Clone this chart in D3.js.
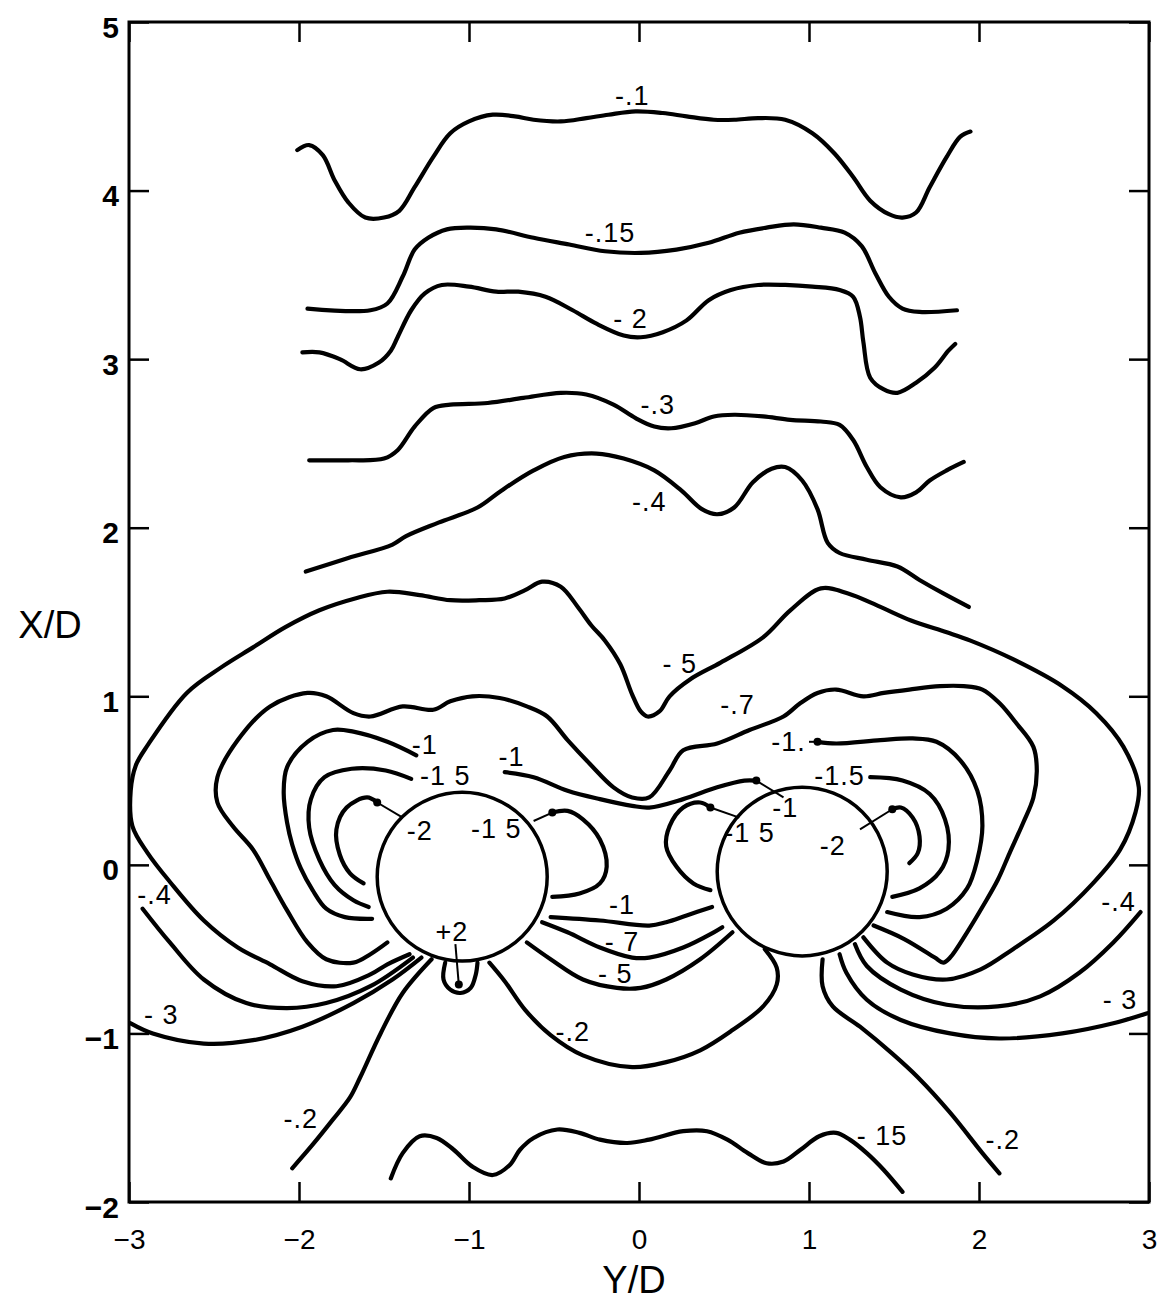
<!DOCTYPE html>
<html>
<head>
<meta charset="utf-8">
<script src="https://cdn.jsdelivr.net/npm/d3@7"></script>
<style>
  body { margin: 0; background: #fff; }
  svg text { font-family: "Liberation Sans", Arial, sans-serif; fill: #000; }
</style>
</head>
<body>
<div id="chart"></div>
<script>
// contour lines as [Y/D, X/D] pairs
const cp10 = [[-2.01,4.24],[-1.94,4.27],[-1.86,4.21],[-1.79,4.06],[-1.71,3.93],[-1.61,3.84],[-1.50,3.84],[-1.41,3.88],[-1.32,4.02],[-1.21,4.20],[-1.11,4.34],[-1.00,4.41],[-0.86,4.45],[-0.73,4.44],[-0.62,4.42],[-0.46,4.41],[-0.31,4.43],[-0.18,4.45],[-0.02,4.47],[0.14,4.46],[0.28,4.44],[0.44,4.42],[0.56,4.42],[0.70,4.43],[0.86,4.42],[1.02,4.34],[1.15,4.22],[1.26,4.08],[1.36,3.94],[1.47,3.86],[1.55,3.84],[1.63,3.87],[1.71,4.02],[1.81,4.20],[1.89,4.32],[1.95,4.35]];
const cp15 = [[-1.95,3.30],[-1.58,3.29],[-1.48,3.33],[-1.39,3.49],[-1.32,3.65],[-1.24,3.72],[-1.13,3.77],[-1.00,3.78],[-0.84,3.77],[-0.62,3.72],[-0.41,3.68],[-0.20,3.64],[0.01,3.63],[0.22,3.65],[0.41,3.69],[0.59,3.75],[0.75,3.78],[0.91,3.80],[1.07,3.78],[1.21,3.75],[1.31,3.67],[1.39,3.51],[1.47,3.37],[1.55,3.30],[1.65,3.28],[1.87,3.29]];
const cp20 = [[-1.98,3.04],[-1.88,3.04],[-1.76,3.00],[-1.64,2.94],[-1.53,2.98],[-1.46,3.05],[-1.42,3.13],[-1.34,3.29],[-1.26,3.39],[-1.16,3.44],[-1.00,3.43],[-0.84,3.40],[-0.71,3.40],[-0.55,3.37],[-0.39,3.29],[-0.25,3.21],[-0.09,3.14],[0.01,3.13],[0.14,3.16],[0.28,3.23],[0.41,3.35],[0.54,3.41],[0.70,3.44],[0.86,3.44],[1.02,3.43],[1.18,3.41],[1.26,3.37],[1.30,3.25],[1.32,3.10],[1.36,2.89],[1.44,2.82],[1.52,2.80],[1.63,2.86],[1.74,2.95],[1.82,3.05],[1.86,3.09]];
const cp30 = [[-1.94,2.40],[-1.71,2.40],[-1.50,2.41],[-1.42,2.46],[-1.32,2.60],[-1.21,2.71],[-1.11,2.73],[-0.89,2.74],[-0.68,2.77],[-0.46,2.80],[-0.31,2.79],[-0.15,2.73],[-0.02,2.65],[0.09,2.60],[0.19,2.59],[0.33,2.62],[0.44,2.66],[0.56,2.67],[0.73,2.66],[0.89,2.64],[1.07,2.63],[1.18,2.61],[1.26,2.52],[1.34,2.36],[1.42,2.24],[1.54,2.18],[1.63,2.21],[1.71,2.28],[1.81,2.34],[1.91,2.39]];
const cp40 = [[-1.96,1.74],[-1.71,1.82],[-1.45,1.90],[-1.37,1.95],[-1.18,2.03],[-0.95,2.12],[-0.81,2.22],[-0.62,2.34],[-0.44,2.42],[-0.25,2.44],[-0.09,2.41],[0.09,2.34],[0.25,2.22],[0.37,2.11],[0.46,2.08],[0.56,2.12],[0.67,2.27],[0.78,2.35],[0.86,2.36],[0.96,2.28],[1.05,2.11],[1.11,1.91],[1.18,1.85],[1.34,1.81],[1.52,1.77],[1.65,1.69],[1.79,1.61],[1.94,1.53]];
const cp50 = [[-1.35,-0.53],[-1.48,-0.59],[-1.58,-0.65],[-1.78,-0.72],[-1.98,-0.69],[-2.17,-0.59],[-2.36,-0.49],[-2.56,-0.33],[-2.76,-0.10],[-2.89,0.07],[-2.98,0.23],[-2.99,0.44],[-2.96,0.59],[-2.89,0.71],[-2.66,1.02],[-2.46,1.17],[-2.27,1.29],[-2.08,1.41],[-1.88,1.51],[-1.67,1.58],[-1.48,1.62],[-1.29,1.60],[-1.11,1.57],[-0.94,1.57],[-0.79,1.58],[-0.67,1.63],[-0.57,1.68],[-0.46,1.65],[-0.36,1.53],[-0.28,1.42],[-0.20,1.33],[-0.11,1.19],[-0.04,1.01],[0.01,0.91],[0.05,0.88],[0.12,0.91],[0.18,1.00],[0.30,1.10],[0.48,1.20],[0.73,1.35],[0.89,1.51],[1.07,1.64],[1.23,1.61],[1.42,1.53],[1.60,1.45],[1.81,1.38],[1.95,1.33],[2.20,1.22],[2.49,1.06],[2.69,0.90],[2.85,0.70],[2.94,0.46],[2.92,0.31],[2.83,0.09],[2.67,-0.11],[2.44,-0.33],[2.20,-0.50],[2.01,-0.62],[1.81,-0.68],[1.61,-0.65],[1.46,-0.58],[1.32,-0.43]];
const cp70 = [[-1.48,-0.46],[-1.58,-0.53],[-1.68,-0.58],[-1.84,-0.56],[-1.95,-0.46],[-2.07,-0.27],[-2.17,-0.09],[-2.27,0.09],[-2.39,0.23],[-2.48,0.37],[-2.48,0.52],[-2.36,0.74],[-2.17,0.94],[-1.95,1.02],[-1.84,1.00],[-1.68,0.90],[-1.58,0.88],[-1.39,0.94],[-1.21,0.92],[-1.11,0.97],[-0.98,1.00],[-0.82,0.99],[-0.66,0.94],[-0.54,0.88],[-0.42,0.74],[-0.29,0.60],[-0.15,0.46],[-0.04,0.40],[0.06,0.40],[0.18,0.56],[0.26,0.68],[0.46,0.72],[0.65,0.80],[0.85,0.88],[0.95,0.96],[1.05,1.02],[1.16,1.04],[1.32,1.00],[1.44,1.02],[1.59,1.04],[1.77,1.06],[1.91,1.06],[2.02,1.04],[2.12,0.96],[2.22,0.84],[2.32,0.70],[2.34,0.56],[2.32,0.40],[2.26,0.25],[2.18,0.07],[2.11,-0.09],[2.02,-0.25],[1.93,-0.40],[1.83,-0.55],[1.79,-0.58],[1.74,-0.55],[1.56,-0.44],[1.38,-0.36]];
const cm10L = [[-1.31,0.65],[-1.48,0.73],[-1.68,0.79],[-1.80,0.80],[-1.95,0.73],[-2.07,0.58],[-2.09,0.43],[-2.07,0.25],[-2.04,0.12],[-1.99,-0.02],[-1.92,-0.15],[-1.84,-0.26],[-1.73,-0.31],[-1.57,-0.32]];
const cm15L = [[-1.34,0.51],[-1.49,0.56],[-1.69,0.57],[-1.85,0.52],[-1.93,0.39],[-1.94,0.22],[-1.88,0.03],[-1.79,-0.12],[-1.68,-0.21],[-1.59,-0.25]];
const cm20L = [[-1.54,0.37],[-1.60,0.40],[-1.72,0.34],[-1.78,0.21],[-1.76,0.06],[-1.70,-0.05],[-1.62,-0.11]];
const cm15Li = [[-0.51,0.31],[-0.42,0.32],[-0.33,0.27],[-0.23,0.15],[-0.19,-0.01],[-0.23,-0.11],[-0.35,-0.17],[-0.51,-0.19]];
const cm10M = [[-0.79,0.55],[-0.62,0.52],[-0.42,0.44],[-0.23,0.39],[-0.04,0.35],[0.06,0.34],[0.26,0.39],[0.46,0.46],[0.62,0.50],[0.69,0.50]];
const cm15Ri = [[0.42,0.34],[0.36,0.37],[0.26,0.34],[0.18,0.23],[0.16,0.11],[0.22,-0.01],[0.32,-0.11],[0.42,-0.15]];
const cm20R = [[1.49,0.33],[1.54,0.34],[1.61,0.28],[1.65,0.17],[1.64,0.07],[1.59,0.01]];
const cm15R = [[1.36,0.52],[1.55,0.50],[1.71,0.42],[1.80,0.27],[1.82,0.09],[1.77,-0.04],[1.65,-0.14],[1.49,-0.19]];
const cm10R = [[1.05,0.73],[1.16,0.72],[1.42,0.74],[1.61,0.75],[1.75,0.73],[1.89,0.62],[1.99,0.44],[2.02,0.23],[1.99,0.03],[1.93,-0.14],[1.81,-0.26],[1.65,-0.31],[1.46,-0.28]];
const cm10B = [[-0.52,-0.31],[-0.23,-0.33],[0.06,-0.36],[0.16,-0.34],[0.28,-0.30],[0.43,-0.25]];
const cm7B = [[-0.57,-0.34],[-0.42,-0.40],[-0.23,-0.49],[-0.04,-0.55],[0.06,-0.55],[0.26,-0.49],[0.44,-0.40],[0.49,-0.37]];
const cm5B = [[-0.66,-0.46],[-0.52,-0.56],[-0.33,-0.68],[-0.13,-0.73],[0.01,-0.73],[0.16,-0.68],[0.36,-0.56],[0.55,-0.40]];
const cm2M = [[-0.88,-0.58],[-0.79,-0.69],[-0.67,-0.86],[-0.52,-1.01],[-0.33,-1.13],[-0.04,-1.20],[0.16,-1.17],[0.36,-1.10],[0.55,-0.98],[0.73,-0.84],[0.81,-0.71],[0.81,-0.61],[0.74,-0.50]];
const cm4LL = [[-2.92,-0.26],[-2.76,-0.46],[-2.56,-0.68],[-2.31,-0.82],[-2.07,-0.85],[-1.84,-0.82],[-1.58,-0.72],[-1.33,-0.55]];
const cm3LL = [[-2.99,-0.94],[-2.86,-1.00],[-2.56,-1.06],[-2.27,-1.04],[-1.98,-0.96],[-1.68,-0.82],[-1.45,-0.68],[-1.28,-0.55]];
const cm2LL = [[-2.04,-1.80],[-1.92,-1.66],[-1.80,-1.51],[-1.70,-1.38],[-1.64,-1.26],[-1.52,-1.00],[-1.39,-0.76],[-1.22,-0.56]];
const cm2LR = [[1.08,-0.56],[1.08,-0.72],[1.14,-0.84],[1.30,-0.96],[1.49,-1.12],[1.64,-1.26],[1.83,-1.47],[2.02,-1.71],[2.12,-1.83]];
const cm3LR = [[1.18,-0.53],[1.22,-0.64],[1.34,-0.80],[1.54,-0.92],[1.83,-1.00],[2.12,-1.03],[2.49,-1.00],[2.79,-0.94],[2.99,-0.88]];
const cm4LR = [[1.27,-0.47],[1.34,-0.60],[1.54,-0.74],[1.81,-0.83],[2.11,-0.84],[2.36,-0.78],[2.59,-0.64],[2.79,-0.46],[2.95,-0.28]];
const cm15B = [[-1.46,-1.86],[-1.39,-1.71],[-1.29,-1.61],[-1.19,-1.62],[-1.09,-1.69],[-0.98,-1.79],[-0.86,-1.84],[-0.76,-1.78],[-0.70,-1.69],[-0.62,-1.62],[-0.48,-1.57],[-0.35,-1.59],[-0.23,-1.63],[-0.07,-1.65],[0.06,-1.63],[0.26,-1.58],[0.40,-1.58],[0.52,-1.63],[0.64,-1.71],[0.75,-1.77],[0.85,-1.76],[0.95,-1.69],[1.06,-1.61],[1.16,-1.59],[1.24,-1.63],[1.34,-1.71],[1.44,-1.81],[1.55,-1.94]];
const cp2U = [[-1.14,-0.58],[-1.15,-0.68],[-1.11,-0.74],[-1.05,-0.76],[-0.99,-0.73],[-0.96,-0.65],[-0.95,-0.58]];

// leader lines from a label to its contour (the arrow end is the second point)
const pointers = [
  [[-1.39,0.28],[-1.54,0.37]],
  [[-0.62,0.26],[-0.51,0.31]],
  [[0.85,0.40],[0.69,0.50]],
  [[0.59,0.28],[0.42,0.34]],
  [[1.30,0.21],[1.49,0.33]],
  [[-1.08,-0.47],[-1.06,-0.71]],
  [[1.00,0.73],[1.05,0.73]]
];

// the two cylinders, diameter D
const cylCentres = [[-1.04,-0.07],[0.96,-0.04]];
const cylRadius = 0.5;

// contour labels: text, Y/D, X/D
const labelText = ["-.1","-.15","- 2","-.3","-.4","- 5","-.7","-1","-1 5","-1","-1.","-1.5","-2","-1 5","-1","-1 5","-2","-1","- 7","- 5","+2","-.2","-.4","-.4","- 3","- 3","-.2","-.2","- 15"];
const labelY = [-0.04,-0.17,-0.05,0.11,0.06,0.24,0.58,-1.26,-1.14,-0.75,0.88,1.18,-1.29,-0.84,0.86,0.65,1.14,-0.10,-0.10,-0.14,-1.10,-0.39,-2.85,2.82,-2.81,2.83,-1.99,2.14,1.43];
const labelX = [4.56,3.75,3.24,2.73,2.15,1.19,0.95,0.71,0.53,0.64,0.73,0.53,0.20,0.21,0.34,0.19,0.11,-0.24,-0.46,-0.65,-0.40,-0.99,-0.18,-0.22,-0.89,-0.80,-1.51,-1.63,-1.61];

const xTicks = [-3,-2,-1,0,1,2,3];
const yTicks = [-2,-1,0,1,2,3,4,5];

const width = 1168, height = 1300;

const svg = d3.select("#chart").append("svg")
  .attr("width", width)
  .attr("height", height);

svg.append("rect").attr("width", width).attr("height", height).attr("fill", "#fff");

const x = d3.scaleLinear().domain([-3, 3]).range([129, 1149]);
const y = d3.scaleLinear().domain([-2, 5]).range([1202, 22]);

// axes, ticks point inward
const xAxis = d3.axisBottom(x).tickValues(xTicks).tickFormat(d3.format("d"))
  .tickSizeInner(-20).tickSizeOuter(0).tickPadding(27);
const yAxis = d3.axisLeft(y).tickValues(yTicks).tickFormat(d3.format("d"))
  .tickSizeInner(-20).tickSizeOuter(0).tickPadding(10);

const gx = svg.append("g")
  .attr("transform", `translate(0, ${y(-2)})`)
  .call(xAxis);
gx.selectAll("text").attr("font-size", 28);

const gy = svg.append("g")
  .attr("transform", `translate(${x(-3)}, 0)`)
  .call(yAxis);
gy.selectAll("text").attr("font-size", 30).attr("font-weight", 700).attr("dy", "0.5em");

svg.append("g")
  .attr("transform", `translate(0, ${y(5)})`)
  .call(d3.axisTop(x).tickValues(xTicks).tickSizeInner(-20).tickSizeOuter(0).tickFormat(""));
svg.append("g")
  .attr("transform", `translate(${x(3)}, 0)`)
  .call(d3.axisRight(y).tickValues(yTicks).tickSizeInner(-20).tickSizeOuter(0).tickFormat(""));

svg.selectAll(".domain").remove();
svg.selectAll(".tick line").attr("stroke", "#000").attr("stroke-width", 2.5);

svg.append("rect")
  .attr("x", x(-3)).attr("y", y(5))
  .attr("width", x(3) - x(-3)).attr("height", y(-2) - y(5))
  .attr("fill", "none").attr("stroke", "#000").attr("stroke-width", 3);

svg.append("text").attr("x", 50).attr("y", 625)
  .attr("text-anchor", "middle").attr("dominant-baseline", "central")
  .attr("font-size", 38).text("X/D");
svg.append("text").attr("x", 634).attr("y", 1280)
  .attr("text-anchor", "middle").attr("dominant-baseline", "central")
  .attr("font-size", 38).text("Y/D");

// contours
const contours = [cp10, cp15, cp20, cp30, cp40, cp50, cp70, cm10L, cm15L, cm20L, cm15Li, cm10M,
  cm15Ri, cm20R, cm15R, cm10R, cm10B, cm7B, cm5B, cm2M, cm4LL, cm3LL, cm2LL, cm2LR, cm3LR, cm4LR, cm15B, cp2U];

const line = d3.line()
  .x(d => x(d[0]))
  .y(d => y(d[1]))
  .curve(d3.curveCatmullRom.alpha(0.5));

svg.append("g")
  .selectAll("path")
  .data(contours)
  .enter()
  .append("path")
    .attr("d", line)
    .attr("fill", "none")
    .attr("stroke", "#000")
    .attr("stroke-width", 4.2)
    .attr("stroke-linecap", "round")
    .attr("stroke-linejoin", "round");

// cylinders
svg.append("g")
  .selectAll("ellipse")
  .data(cylCentres)
  .enter()
  .append("ellipse")
    .attr("cx", d => x(d[0]))
    .attr("cy", d => y(d[1]))
    .attr("rx", x(cylRadius) - x(0))
    .attr("ry", y(0) - y(cylRadius))
    .attr("fill", "none")
    .attr("stroke", "#000")
    .attr("stroke-width", 3.5);

// pointers
const pg = svg.append("g");
pg.selectAll("line")
  .data(pointers)
  .enter()
  .append("line")
    .attr("x1", d => x(d[0][0])).attr("y1", d => y(d[0][1]))
    .attr("x2", d => x(d[1][0])).attr("y2", d => y(d[1][1]))
    .attr("stroke", "#000").attr("stroke-width", 2);
pg.selectAll("circle")
  .data(pointers)
  .enter()
  .append("circle")
    .attr("cx", d => x(d[1][0])).attr("cy", d => y(d[1][1]))
    .attr("r", 4).attr("fill", "#000");

// labels
svg.append("g")
  .selectAll("text")
  .data(labelText)
  .enter()
  .append("text")
    .attr("x", (d, i) => x(labelY[i]))
    .attr("y", (d, i) => y(labelX[i]))
    .attr("text-anchor", "middle")
    .attr("dominant-baseline", "central")
    .attr("font-size", 27)
    .attr("letter-spacing", 1)
    .text(d => d);
</script>
</body>
</html>
